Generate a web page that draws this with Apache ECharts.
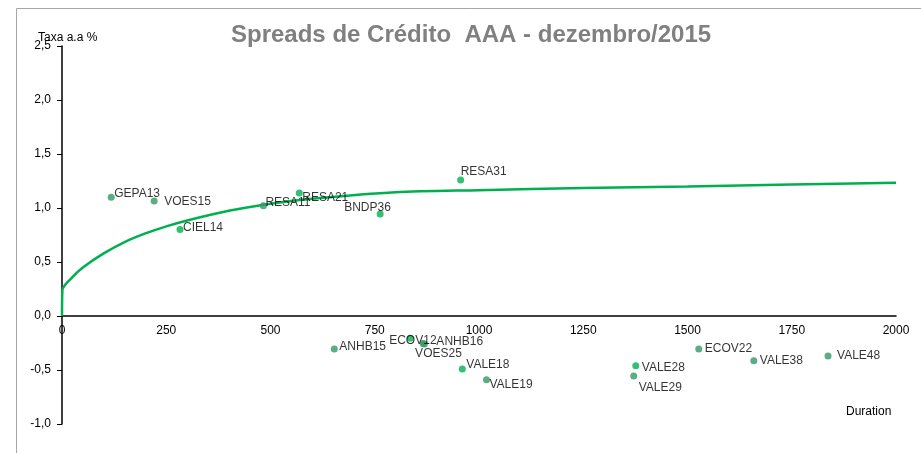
<!DOCTYPE html>
<html><head><meta charset="utf-8">
<script src="https://cdn.jsdelivr.net/npm/echarts@6/dist/echarts.min.js"></script>
<style>html,body{margin:0;padding:0;background:#fff}#c{width:921px;height:453px}</style>
</head><body><div id="c"></div>
<script>
// ---- data ----
const titleText = 'Spreads de Crédito  AAA - dezembro/2015';
const yAxisTitle = 'Taxa a.a %';
const xAxisTitle = 'Duration';

// bonds drawn in bright green
const brightNames = ['CIEL14','RESA21','BNDP36','RESA31','ECOV12','VALE18','VALE28'];
const brightDur   = [283, 569, 763, 956, 835, 960, 1376];
const brightSprd  = [0.80, 1.14, 0.945, 1.26, -0.205, -0.49, -0.46];

// bonds drawn in darker green
const darkNames = ['GEPA13','VOES15','RESA11','ANHB15','ANHB16','VOES25','VALE19','VALE29','ECOV22','VALE38','VALE48'];
const darkDur   = [118, 221, 483, 653, 869, 866, 1018, 1371, 1527, 1659, 1837];
const darkSprd  = [1.10, 1.065, 1.02, -0.305, -0.26, -0.255, -0.59, -0.555, -0.305, -0.415, -0.37];

// fitted curve
const curveDur  = [0, 1, 25, 50, 100, 150, 200, 250, 300, 400, 500, 600, 800, 1000, 1250, 1500, 1750, 2000];
const curveSprd = [0, 0.24, 0.36, 0.45, 0.58, 0.685, 0.765, 0.83, 0.885, 0.975, 1.04, 1.085, 1.145, 1.165, 1.185, 1.20, 1.217, 1.234];

const yTicks = ['-1,0','-0,5','0,0','0,5','1,0','1,5','2,0','2,5'];
const xTicks = ['0','250','500','750','1000','1250','1500','1750','2000'];

// ---- label placement (pixel offsets from point centre) ----
const labelOffsets = {
  GEPA13:[3,-4], VOES15:[10,1], CIEL14:[3,-2], RESA11:[2,-3], RESA21:[3,5],
  BNDP36:[-36,-6], RESA31:[0,-8], ANHB15:[5,-2], ECOV12:[-21,3], ANHB16:[12,-2],
  VOES25:[-8,10], VALE18:[4,-4], VALE19:[3,5], VALE28:[6,2], VALE29:[5,12],
  ECOV22:[6,0], VALE38:[6,0], VALE48:[9,0]
};
const SYM = 7;
function pts(names, xs, ys){
  return names.map((n,i)=>{
    const o = labelOffsets[n] || [5,0];
    return {name:n, value:[xs[i], ys[i]],
      label:{position:[o[0]+SYM/2, o[1]+SYM/2], align:'left', verticalAlign:'middle'}};
  });
}

const el = document.getElementById('c');
const chart = echarts.init(el, null, {renderer:'canvas'});
const font = 'Liberation Sans, Arial, sans-serif';
const gridTop = 46, gridBottom = 29, H = 453;
const plotH = H - gridTop - gridBottom;
const yMin = -1, yMax = 2.5;
const zeroOffset = plotH * (0 - yMin) / (yMax - yMin);
chart.setOption({
  animation:false,
  textStyle:{fontFamily:font},
  grid:{left:62, right:25, top:gridTop, bottom:gridBottom, containLabel:false},
  title:{text:titleText, left:226, top:18, itemGap:0,
    textStyle:{fontFamily:font, fontSize:24, fontWeight:'bold', color:'#808080'}},
  graphic:[
    {type:'rect', shape:{x:16.5, y:8.5, width:1200, height:1200}, style:{fill:'none', stroke:'#a6a6a6', lineWidth:1}, silent:true, z:-1},
    {type:'text', left:38, top:32, style:{text:yAxisTitle, font:'12px '+font, fill:'#000'}},
    {type:'text', left:846, top:406, style:{text:xAxisTitle, font:'12px '+font, fill:'#000'}}
  ],
  xAxis:{type:'value', min:0, max:2000, interval:250, offset:-zeroOffset,
    axisLine:{show:true, onZero:false, lineStyle:{color:'#000', width:1.5}},
    axisTick:{show:false},
    axisLabel:{color:'#000', fontSize:12, fontFamily:font, margin:9,
      formatter:(v)=>xTicks[Math.round(v/250)]},
    splitLine:{show:false}},
  yAxis:{type:'value', min:yMin, max:yMax, interval:0.5,
    axisLine:{show:true, onZero:false, lineStyle:{color:'#000', width:1.5}},
    axisTick:{show:true, length:5, lineStyle:{color:'#000'}},
    axisLabel:{color:'#000', fontSize:12, fontFamily:font, margin:11,
      formatter:(v)=>yTicks[Math.round((v-yMin)/0.5)]},
    splitLine:{show:false}},
  series:[
    {type:'line', data:curveDur.map((d,i)=>[d,curveSprd[i]]), smooth:0.3, showSymbol:false,
      lineStyle:{color:'#00B050', width:2.5}, z:2},
    {type:'scatter', name:'b', data:pts(brightNames, brightDur, brightSprd), symbolSize:SYM,
      itemStyle:{color:'#00B050'}, z:3,
      label:{show:true, formatter:'{b}', color:'#000', fontSize:12, fontFamily:font}},
    {type:'scatter', name:'d', data:pts(darkNames, darkDur, darkSprd), symbolSize:SYM,
      itemStyle:{color:'#339966'}, z:3,
      label:{show:true, formatter:'{b}', color:'#000', fontSize:12, fontFamily:font}}
  ]
});
</script></body></html>
